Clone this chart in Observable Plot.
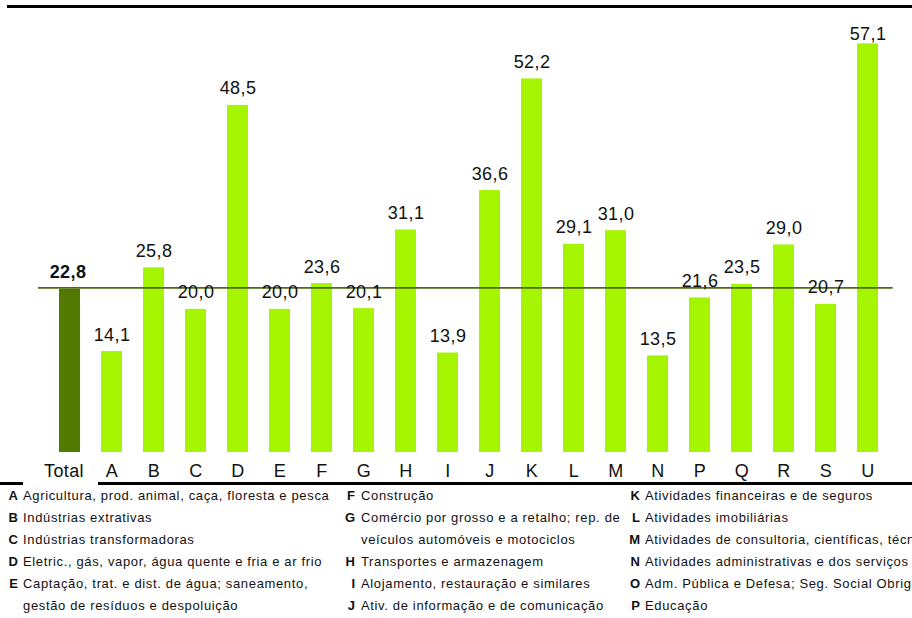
<!DOCTYPE html>
<html>
<head>
<meta charset="utf-8">
<script src="https://cdn.jsdelivr.net/npm/d3@7"></script>
<script src="https://cdn.jsdelivr.net/npm/@observablehq/plot@0.6"></script>
<style>
  html, body { margin: 0; padding: 0; background: #fff; }
  body { width: 912px; height: 618px; overflow: hidden; font-family: "Liberation Sans", Arial, sans-serif; }
  #wrap { position: relative; width: 912px; height: 618px; overflow: hidden; }
  #chart { position: absolute; left: 0; top: 0; }
  #chart text { letter-spacing: 0.4px; }
  .hline { position: absolute; background: #000; }
  .row { position: absolute; font-size: 13px; letter-spacing: 0.65px; line-height: 22px; white-space: nowrap; color: #111; }
  .row .k { position: absolute; text-align: right; font-weight: bold; letter-spacing: 0; }
  .row .t { position: absolute; }
</style>
</head>
<body>
<div id="wrap">
  <div id="chart"></div>
  <div class="hline" style="left:7px; top:5px; width:905px; height:3px;"></div>
  <div class="hline" style="left:0px; top:482px; width:23px; height:3px;"></div>
  <div class="hline" style="left:98px; top:482px; width:814px; height:3px;"></div>
  <div id="legend"></div>
</div>
<script>
// ---- data ----
const categories = ["Total","A","B","C","D","E","F","G","H","I","J","K","L","M","N","P","Q","R","S","U"];
const values = [22.8,14.1,25.8,20.0,48.5,20.0,23.6,20.1,31.1,13.9,36.6,52.2,29.1,31.0,13.5,21.6,23.5,29.0,20.7,57.1];
const totalValue = 22.8;

const legendCol1 = [
  ["A", "Agricultura, prod. animal, caça, floresta e pesca"],
  ["B", "Indústrias extrativas"],
  ["C", "Indústrias transformadoras"],
  ["D", "Eletric., gás, vapor, água quente e fria e ar frio"],
  ["E", "Captação, trat. e dist. de água; saneamento,"],
  ["", "gestão de resíduos e despoluição"]
];
const legendCol2 = [
  ["F", "Construção"],
  ["G", "Comércio por grosso e a retalho; rep. de"],
  ["", "veículos automóveis e motociclos"],
  ["H", "Transportes e armazenagem"],
  ["I", "Alojamento, restauração e similares"],
  ["J", "Ativ. de informação e de comunicação"]
];
const legendCol3 = [
  ["K", "Atividades financeiras e de seguros"],
  ["L", "Atividades imobiliárias"],
  ["M", "Atividades de consultoria, científicas, técnicas e similares"],
  ["N", "Atividades administrativas e dos serviços de apoio"],
  ["O", "Adm. Pública e Defesa; Seg. Social Obrigatória"],
  ["P", "Educação"]
];

const data = categories.map((c, i) => ({cat: c, value: values[i]}));
const fmt = v => v.toFixed(1).replace(".", ",");
const maxVal = d3.max(values);

const light = "#a6f500";
const dark = "#527a00";

const plot = Plot.plot({
  width: 912,
  height: 490,
  marginTop: 22.6,
  marginBottom: 38,
  marginLeft: 34,
  marginRight: 9.3,
  style: {fontFamily: "'Liberation Sans', Arial, sans-serif", color: "#111", background: "transparent"},
  x: {type: "band", domain: categories, padding: 0.5, axis: null},
  y: {domain: [0, 60], axis: null},
  marks: [
    Plot.barY(data.filter(d => d.cat !== "Total"), {x: "cat", y: "value", fill: light}),
    Plot.barY(data.filter(d => d.cat === "Total"), {x: "cat", y: "value", fill: dark}),
    Plot.ruleY([totalValue], {stroke: "#4d6b12", strokeWidth: 1.6, insetLeft: 4, insetRight: 10, dy: -1.5}),
    Plot.text(data.filter(d => d.cat !== "Total" && d.value !== maxVal), {x: "cat", y: "value", text: d => fmt(d.value), lineAnchor: "bottom", dy: -11, fontSize: 18, fill: "#111"}),
    Plot.text(data.filter(d => d.value === maxVal), {x: "cat", y: "value", text: d => fmt(d.value), lineAnchor: "bottom", dy: -4, fontSize: 18, fill: "#111"}),
    Plot.text(data.filter(d => d.cat === "Total"), {x: "cat", y: "value", text: d => fmt(d.value), lineAnchor: "bottom", dy: -11, dx: -2, fontSize: 18, fontWeight: "bold", fill: "#111"}),
    Plot.axisX(categories.slice(1), {tickSize: 0, tickPadding: 12, fontSize: 18, fill: "#111", label: null}),
    Plot.axisX(categories.slice(0, 1), {tickSize: 0, tickPadding: 12, dx: -6, fontSize: 18, fill: "#111", label: null})
  ]
});
document.getElementById("chart").appendChild(plot);

// ---- legend ----
const legend = document.getElementById("legend");
const cols = [
  {items: legendCol1, keyRight: 18, textLeft: 23},
  {items: legendCol2, keyRight: 355, textLeft: 361},
  {items: legendCol3, keyRight: 640, textLeft: 645}
];
cols.forEach(col => {
  col.items.forEach(([k, t], i) => {
    const row = document.createElement("div");
    row.className = "row";
    row.style.top = (485 + i * 22) + "px";
    row.style.left = "0px";
    row.style.width = "912px";
    row.style.height = "22px";
    const ks = document.createElement("span");
    ks.className = "k";
    ks.textContent = k;
    ks.style.left = (col.keyRight - 30) + "px";
    ks.style.width = "30px";
    const ts = document.createElement("span");
    ts.className = "t";
    ts.textContent = t;
    ts.style.left = col.textLeft + "px";
    row.appendChild(ks);
    row.appendChild(ts);
    legend.appendChild(row);
  });
});
</script>
</body>
</html>
